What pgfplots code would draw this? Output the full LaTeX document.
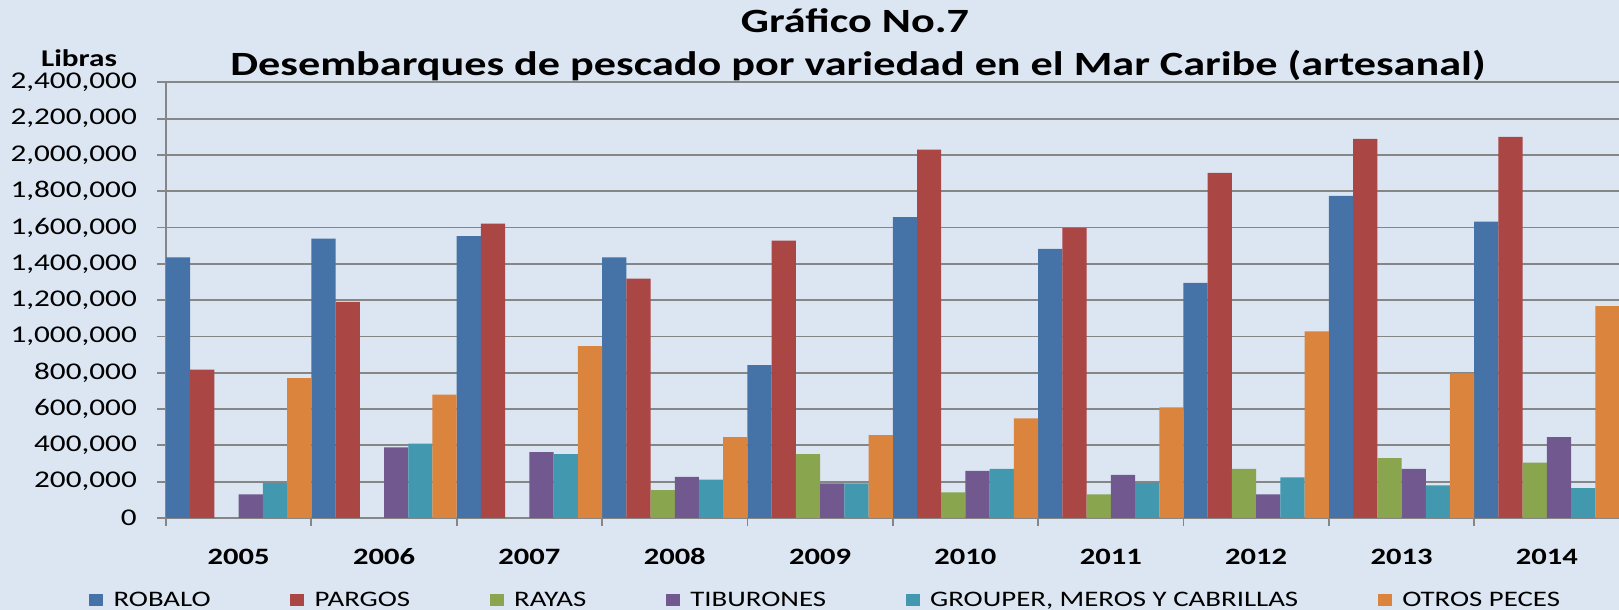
\documentclass[border=0pt]{standalone}
\usepackage{fontspec}
\setmainfont{Carlito}[FakeStretch=1.3]
\usepackage{pgfplots}
\pgfplotsset{compat=1.18}
\usepackage{pgfplotstable}
\definecolor{bgc}{HTML}{DCE6F2}
\definecolor{gridc}{HTML}{868686}
\definecolor{cA}{HTML}{4572A7}
\definecolor{cB}{HTML}{AA4643}
\definecolor{cC}{HTML}{89A54E}
\definecolor{cD}{HTML}{71588F}
\definecolor{cE}{HTML}{4198AF}
\definecolor{cF}{HTML}{DB843D}
\pgfplotstableread{
x robalo pargos rayas tib grouper otros
0 1435000 817000 0 130000 193000 771000
1 1539000 1191000 0 389000 409000 679000
2 1552000 1622000 0 363000 352000 947000
3 1435000 1319000 154000 226000 211000 446000
4 842000 1528000 352000 191000 191000 457000
5 1657000 2029000 141000 259000 270000 549000
6 1483000 1598000 130000 237000 193000 609000
7 1295000 1901000 270000 130000 224000 1028000
8 1774000 2088000 330000 270000 180000 796000
9 1633000 2099000 305000 446000 165000 1167000
}\datatable
\begin{document}
\begin{tikzpicture}
\fill[bgc] (0pt,0pt) rectangle (1619pt,610pt);
\useasboundingbox (0pt,0pt) rectangle (1619pt,610pt);
\begin{axis}[
  at={(166pt,92pt)}, anchor=south west,
  scale only axis, width=1453.6pt, height=435.7pt,
  xmin=-0.5, xmax=9.5, ymin=0, ymax=2400000,
  ybar=0pt, bar width=24.23pt,
  axis x line=bottom, axis y line=left,
  axis line style={draw=gridc, line width=2pt, -},
  tick align=outside,
  major tick length=9pt,
  minor tick length=8pt,
  tick style={draw=gridc, line width=1.8pt},
  xtick={0,1,2,3,4,5,6,7,8,9},
  xticklabels={2005,2006,2007,2008,2009,2010,2011,2012,2013,2014},
  minor xtick={-0.5,0.5,1.5,2.5,3.5,4.5,5.5,6.5,7.5,8.5,9.5},
  xtick style={draw=none},
  minor x tick style={draw=gridc, line width=1.8pt},
  xticklabel style={font=\fontsize{23.5}{28}\selectfont\bfseries, anchor=base, yshift=-37pt, inner sep=0pt},
  ytick={0,200000,400000,600000,800000,1000000,1200000,1400000,1600000,1800000,2000000,2200000,2400000},
  yticklabels={0,{200,000},{400,000},{600,000},{800,000},{1,000,000},{1,200,000},{1,400,000},{1,600,000},{1,800,000},{2,000,000},{2,200,000},{2,400,000}},
  scaled y ticks=false,
  yticklabel style={font=\fontsize{24}{29}\selectfont, anchor=east, inner sep=0pt, xshift=-20pt},
  ymajorgrids, grid style={draw=gridc, line width=1.8pt},
  legend columns=6,
  legend cell align=left,
  legend style={at={(axis description cs:-0.05297,-0.1882)}, anchor=west,
    draw=none, fill=none, inner sep=0pt, outer sep=0pt,
    font=\fontsize{22.2}{26}\selectfont,
    nodes={inner sep=0pt},
    /tikz/every odd column/.style={column sep=10.5pt},
    /tikz/every even column/.style={column sep=79.5pt}},
  area legend,
  legend image code/.code={\fill[#1] (0pt,-6.25pt) rectangle (14pt,6.25pt);},
]
\addplot[fill=cA, draw=none] table[x=x, y=robalo] {\datatable};
\addplot[fill=cB, draw=none] table[x=x, y=pargos] {\datatable};
\addplot[fill=cC, draw=none] table[x=x, y=rayas] {\datatable};
\addplot[fill=cD, draw=none] table[x=x, y=tib] {\datatable};
\addplot[fill=cE, draw=none] table[x=x, y=grouper] {\datatable};
\addplot[fill=cF, draw=none] table[x=x, y=otros] {\datatable};
\legend{ROBALO, PARGOS, RAYAS, TIBURONES, {GROUPER, MEROS Y CABRILLAS}, OTROS PECES}
\end{axis}
\node[anchor=base, font=\fontsize{34}{40}\selectfont\bfseries] at (855pt,577pt) {Gráfico No.7};
\node[anchor=base, font=\fontsize{34}{40}\selectfont\bfseries] at (858pt,534pt) {Desembarques de pescado por variedad en el Mar Caribe (artesanal)};
\node[anchor=base, inner sep=0pt, font=\fontsize{24}{29}\selectfont\bfseries] at (79pt,543pt) {Libras};
\end{tikzpicture}
\end{document}
